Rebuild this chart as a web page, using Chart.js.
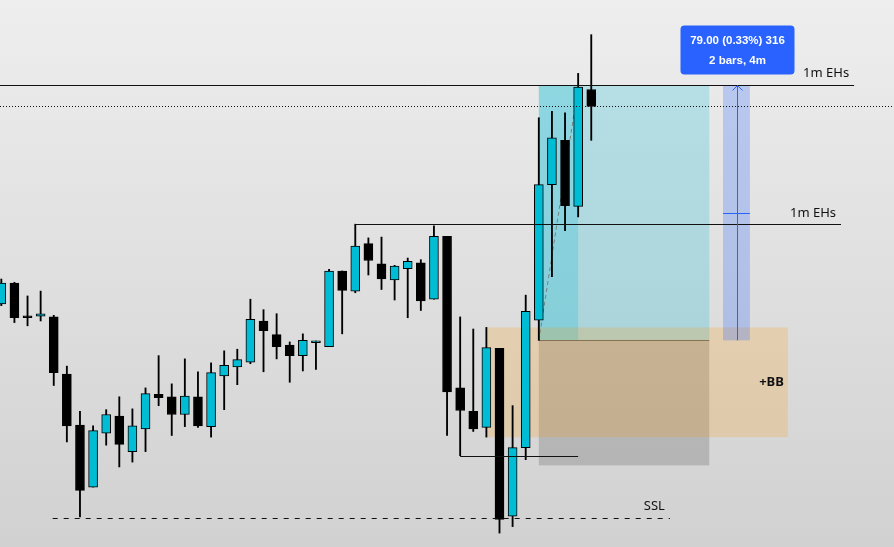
<!DOCTYPE html>
<html><head><meta charset="utf-8">
<script src="https://cdn.jsdelivr.net/npm/chart.js@4.4.1/dist/chart.umd.min.js"></script>
<style>html,body{margin:0;padding:0;background:#e2e2e2;overflow:hidden}#wrap{width:894px;height:547px}</style>
</head><body><div id="wrap"><canvas id="c" width="894" height="547"></canvas></div>
<script>
// ---- candle data (1m bars) ----
const opens  = [23870.75,23877.25,23866.75,23867,23866.75,23849,23833.25,23814,23830.75,23836,23825,23832,23842.75,23842,23836.5,23842,23832.75,23848.5,23851.25,23852.75,23865.5,23861.25,23858,23854.75,23858.75,23857.5,23881,23874.75,23889.5,23883.25,23878.25,23881.75,23883.5,23872.25,23891.75,23844.75,23837.5,23832.5,23857,23805,23826.25,23865.75,23907.75,23921.5,23901,23937.25];
const highs  = [23878.5,23877.5,23873.25,23874.75,23867.25,23851.5,23837.5,23833,23838,23842,23838.25,23844.75,23854.75,23846,23853.75,23849.75,23852.5,23856.25,23856.75,23872.25,23869,23867.75,23859,23861.5,23859.25,23881.5,23881,23895.5,23891.25,23891.5,23882.75,23885,23884.5,23895,23891.75,23866.75,23863,23863.5,23857,23839.25,23873.5,23928.5,23930.5,23930,23942.25,23954.25];
const lows   = [23870.25,23865,23864,23865.5,23845.5,23828,23804.75,23814,23827,23820.25,23821.75,23825,23839.25,23830,23832.75,23832.5,23829.5,23838,23845.75,23852.25,23849.75,23853.75,23846.5,23850,23850.5,23857.5,23861.5,23874.25,23879.75,23875.25,23872,23866.5,23868.75,23872.25,23830,23823.75,23831.25,23829.5,23799.75,23801.75,23822.5,23859.5,23879.25,23893.5,23897.75,23921.5];
const closes = [23877.25,23866.5,23866.5,23867.75,23849.5,23833,23813,23831.5,23836.5,23827.25,23833,23843,23841.75,23836.5,23842.25,23833,23849.5,23851.75,23853.5,23866,23862.5,23857.5,23854.75,23859.5,23859,23881,23875,23888.75,23884.25,23878.5,23882.5,23884,23871.75,23891.75,23843.5,23837.75,23832,23857.25,23804,23826.25,23868.5,23907.75,23922.25,23901.25,23938,23932];
const barIndex = opens.map((_, i) => i);

// ---- levels ----
const ehTop = 23938.5;      // upper "1m EHs"
const ehMid = 23895.5;      // lower "1m EHs"
const lastPrice = 23932;    // dotted price line
const entry = 23859.5, target = 23938.5, stop = 23820.75;
const bbHigh = 23863.5, bbLow = 23829.5;
const sweepLow = 23823.75;
const sslLevel = 23804.5;
const labelTexts = { eh: "1m EHs", bb: "+BB", ssl: "SSL" };
const measureLines = ["79.00 (0.33%) 316", "2 bars, 4m"];

// ---- view ----
const X_MIN = -0.1, X_MAX = -0.1 + 894 / 13.11;
const Y_MAX = 23965, Y_MIN = 23965 - 547 * 0.31;

const CYAN = '#00bcd4';
const bull = barIndex.map(i => closes[i] >= opens[i]);

const bgPlugin = {
  id: 'bg',
  beforeDraw(chart) {
    const { ctx, width, height } = chart;
    const g = ctx.createLinearGradient(0, 0, 0, height);
    g.addColorStop(0, '#eeeeee');
    g.addColorStop(1, '#d1d1d1');
    ctx.save(); ctx.fillStyle = g; ctx.fillRect(0, 0, width, height); ctx.restore();
  }
};

function hline(ctx, x1, x2, y, color, dash, w) {
  ctx.save(); ctx.strokeStyle = color; ctx.lineWidth = w || 1;
  ctx.setLineDash(dash || []);
  ctx.beginPath(); ctx.moveTo(x1, Math.round(y) + 0.5); ctx.lineTo(x2, Math.round(y) + 0.5); ctx.stroke();
  ctx.restore();
}
function box(ctx, x1, y1, x2, y2, color) {
  ctx.save(); ctx.fillStyle = color;
  ctx.fillRect(Math.min(x1, x2), Math.min(y1, y2), Math.abs(x2 - x1), Math.abs(y2 - y1));
  ctx.restore();
}

const drawPlugin = {
  id: 'drawings',
  beforeDatasetsDraw(chart) {
    const { ctx, scales: { x, y } } = chart;
    const X = v => x.getPixelForValue(v), Y = v => y.getPixelForValue(v);
    // long position tool
    box(ctx, X(41), Y(target), X(54), Y(entry), 'rgba(0,188,212,0.22)');
    box(ctx, X(41), Y(entry), X(54), Y(stop), 'rgba(120,120,120,0.35)');
    box(ctx, X(41), Y(target), X(44), Y(entry), 'rgba(0,188,212,0.22)');
    hline(ctx, X(41), X(54), Y(entry), 'rgba(70,70,60,0.7)');
    ctx.save(); ctx.strokeStyle = 'rgba(110,110,110,0.8)'; ctx.setLineDash([4, 3]);
    ctx.beginPath(); ctx.moveTo(X(41), Y(entry)); ctx.lineTo(X(44), Y(closes[44])); ctx.stroke(); ctx.restore();
    // +BB box
    box(ctx, X(37), Y(bbHigh), X(60), Y(bbLow), 'rgba(255,152,0,0.2)');
    // measure box
    box(ctx, X(55.05), Y(target), X(57.1), Y(entry), 'rgba(41,98,255,0.25)');
  },
  afterDatasetsDraw(chart) {
    const { ctx, scales: { x, y } } = chart;
    const X = v => x.getPixelForValue(v), Y = v => y.getPixelForValue(v);
    // levels
    hline(ctx, 0, X(65.05), Y(ehTop), '#111');
    hline(ctx, 0, chart.width, Y(lastPrice), '#111', [1, 2]);
    hline(ctx, X(27), X(64.05), Y(ehMid), '#111');
    hline(ctx, X(35), X(44), Y(sweepLow), '#111');
    hline(ctx, X(3.92), X(51), Y(sslLevel), '#111', [5, 6]);
    // wick to level
    // measure line
    const cx = Math.round(X(56.08)) + 0.5;
    ctx.save(); ctx.strokeStyle = '#2962ff'; ctx.lineWidth = 1;
    ctx.beginPath(); ctx.moveTo(cx, Y(entry)); ctx.lineTo(cx, Y(target)); ctx.stroke();
    ctx.beginPath(); ctx.moveTo(cx - 5, Y(target) + 5); ctx.lineTo(cx, Y(target)); ctx.lineTo(cx + 5, Y(target) + 5); ctx.stroke();
    const mid = Math.round(Y((entry + target) / 2)) + 0.5;
    ctx.beginPath(); ctx.moveTo(X(55.05), mid); ctx.lineTo(X(57.1), mid); ctx.stroke();
    ctx.restore();
    // texts
    ctx.save();
    ctx.fillStyle = '#111';
    ctx.font = '13px "Noto Sans", "Liberation Sans", sans-serif';
    ctx.textAlign = 'right'; ctx.textBaseline = 'middle';
    ctx.fillText(labelTexts.eh, X(65.05) - 5, Y(ehTop) - 12);
    ctx.fillText(labelTexts.eh, X(64.05) - 5, Y(ehMid) - 11);
    ctx.fillText(labelTexts.ssl, X(51) - 5, Y(sslLevel) - 11);
    ctx.font = 'bold 13px "Noto Sans", "Liberation Sans", sans-serif';
    ctx.fillText(labelTexts.bb, X(60) - 4, (Y(bbHigh) + Y(bbLow)) / 2);
    // measure label
    const bw = 114, bh = 49;
    const bx = cx - bw / 2, by = Y(target) - 11 - bh;
    ctx.fillStyle = '#2962ff';
    ctx.beginPath();
    if (ctx.roundRect) ctx.roundRect(bx, by, bw, bh, 4); else ctx.rect(bx, by, bw, bh);
    ctx.fill();
    ctx.fillStyle = '#ffffff'; ctx.textAlign = 'center';
    ctx.font = '600 11.5px "Liberation Sans", "Noto Sans", sans-serif';
    ctx.fillText(measureLines[0], cx, by + 15);
    ctx.fillText(measureLines[1], cx, by + 35);
    ctx.restore();
  }
};

new Chart(document.getElementById('c'), {
  type: 'bar',
  data: {
    datasets: [
      {
        label: 'body',
        order: 0,
        data: barIndex.map(i => ({ x: i, y: [opens[i], closes[i]] })),
        backgroundColor: bull.map(b => b ? CYAN : '#000'),
        borderColor: '#000',
        borderWidth: 1,
        borderSkipped: false,
        barThickness: 9,
        minBarLength: 2,
        grouped: false
      },
      {
        label: 'wick',
        order: 1,
        data: barIndex.map(i => ({ x: i, y: [lows[i], highs[i]] })),
        backgroundColor: '#000',
        borderWidth: 0,
        barThickness: 1.2,
        grouped: false
      }
    ]
  },
  options: {
    responsive: false,
    animation: false,
    devicePixelRatio: 1,
    layout: { padding: 0 },
    plugins: { legend: { display: false }, tooltip: { enabled: false } },
    scales: {
      x: { type: 'linear', min: X_MIN, max: X_MAX, display: false, offset: false },
      y: { type: 'linear', min: Y_MIN, max: Y_MAX, display: false }
    }
  },
  plugins: [bgPlugin, drawPlugin]
});
</script>
</body></html>
